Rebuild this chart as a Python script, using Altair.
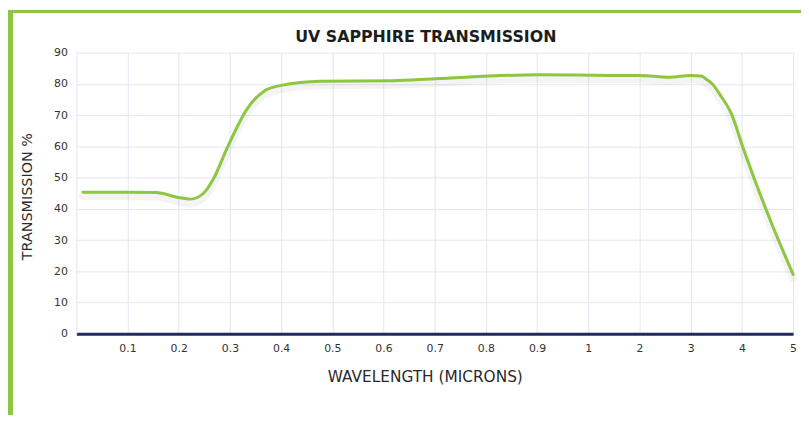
import altair as alt
import pandas as pd

# Curve (wavelength in microns, transmission in %)
wavelength = [0.013, 0.1, 0.156, 0.2, 0.223, 0.248, 0.268, 0.295, 0.335, 0.368, 0.4,
              0.477, 0.619, 0.7, 0.902, 1.51, 2.0, 2.58, 3.0, 3.2, 3.32, 3.41, 3.57,
              3.8, 4.02, 4.6, 5.0]
transmission = [45.3, 45.3, 45.2, 43.6, 43.1, 44.9, 49.6, 59.6, 72.3, 77.8, 79.5,
                80.8, 81.0, 81.6, 82.9, 82.7, 82.7, 82.1, 82.7, 82.5, 81.3, 80.2, 76.6,
                70.2, 59.6, 34.5, 19.0]

# Axis ticks (x axis is evenly spaced categories of wavelength)
x_ticks = [0.1, 0.2, 0.3, 0.4, 0.5, 0.6, 0.7, 0.8, 0.9, 1, 2, 3, 4, 5]
y_ticks = [0, 10, 20, 30, 40, 50, 60, 70, 80, 90]

chart_title = ["UV SAPPHIRE TRANSMISSION"]

W, H = 724, 284
x_domain = [0] + x_ticks
x_range = [i * W / (len(x_domain) - 1) for i in range(len(x_domain))]

df = pd.DataFrame({"wavelength": wavelength, "transmission": transmission})

GREEN = "#8dc63f"
NAVY = "#1f2b5b"
GRID = "#e3e7ef"
FONT = "DejaVu Sans"

x_enc = alt.X(
    "wavelength:Q",
    scale=alt.Scale(domain=x_domain, range=x_range, nice=False, zero=False),
    axis=alt.Axis(
        values=x_ticks, format="~g", title="WAVELENGTH (MICRONS)",
        grid=True, gridColor=GRID, gridWidth=1,
        domainColor=NAVY, domainWidth=3,
        ticks=False, tickSize=0, labelPadding=9,
        labelFont=FONT, labelFontSize=11, labelColor="#333333",
        titleFont=FONT, titleFontSize=15.5, titleFontWeight="normal",
        titleColor="#2a2a2a", titleX=352, titleY=43, titleBaseline="middle",
        labelFlush=False,
    ),
)
y_enc = alt.Y(
    "transmission:Q",
    scale=alt.Scale(domain=[0, 90], nice=False),
    axis=alt.Axis(
        values=y_ticks, title="TRANSMISSION %",
        grid=True, gridColor=GRID, gridWidth=1,
        domainColor=GRID, domainWidth=1,
        ticks=False, tickSize=0, labelPadding=9,
        labelFont=FONT, labelFontSize=11, labelColor="#333333",
        titleFont=FONT, titleFontSize=14.5, titleFontWeight="normal",
        titleColor="#2a2a2a", titleX=-49, titleY=145, titleBaseline="middle",
    ),
)

base = alt.Chart(df)

shadow = base.mark_line(
    interpolate="monotone", color="#000000", opacity=0.045, strokeWidth=8,
    yOffset=4, strokeCap="round"
).encode(x=x_enc, y=y_enc)

line = base.mark_line(
    interpolate="monotone", color=GREEN, strokeWidth=3, strokeCap="round"
).encode(x=x_enc, y=y_enc)

title_text = alt.Chart(pd.DataFrame({"t": chart_title})).mark_text(
    font=FONT, fontSize=16, fontWeight="bold", color="#1d1d1d",
    align="center", baseline="alphabetic"
).encode(text="t:N", x=alt.value(353), y=alt.value(-11))

# Green frame bands of the reference picture (decoration)
frame_top = alt.Chart(pd.DataFrame({"a": [0]})).mark_rect(color=GREEN).encode(
    x=alt.value(-69), x2=alt.value(W + 8), y=alt.value(-43), y2=alt.value(-40)
)
frame_left = alt.Chart(pd.DataFrame({"a": [0]})).mark_rect(color=GREEN).encode(
    x=alt.value(-69), x2=alt.value(-64), y=alt.value(-43), y2=alt.value(H + 100)
)

chart = alt.layer(shadow, line, title_text, frame_top, frame_left).properties(
    width=W, height=H,
    autosize=alt.AutoSizeParams(type="none"),
    padding={"left": 69, "top": 43, "right": 8, "bottom": 80},
    background="white",
).configure_view(stroke=None)

chart.save("out.html", embed_options={"renderer": "svg", "actions": False})
